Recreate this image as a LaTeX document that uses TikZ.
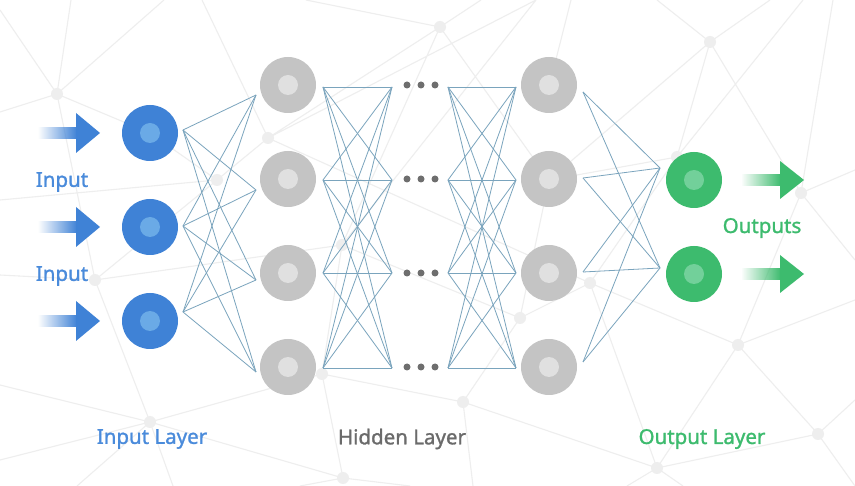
\documentclass[tikz,border=0pt]{standalone}
\usepackage{fontspec}
\setmainfont{Noto Sans}
\newfontfamily\lblfont[FakeBold=1.3]{Noto Sans}
\usetikzlibrary{fadings}
\definecolor{inblue}{HTML}{3F82D6}
\definecolor{inblueL}{HTML}{6AAAE6}
\definecolor{hgray}{HTML}{C4C4C4}
\definecolor{hgrayL}{HTML}{E0E0E0}
\definecolor{ogreen}{HTML}{3DBB6E}
\definecolor{ogreenL}{HTML}{72D09A}
\definecolor{wire}{HTML}{7AA4BD}
\definecolor{bgline}{HTML}{EEEEEE}
\definecolor{bgdot}{HTML}{EEEEEE}
\definecolor{dotgray}{HTML}{6E6E6E}
\definecolor{txtblue}{HTML}{4A8BDB}
\definecolor{txtgray}{HTML}{6B6B6B}
\definecolor{txtgreen}{HTML}{3DBB6E}
\tikzfading[name=fadein, left color=transparent!100, right color=transparent!0]
\tikzset{
  neuron/.style={circle, minimum size=56pt, inner sep=0pt, fill=#1},
  core/.style={circle, minimum size=20pt, inner sep=0pt, fill=#1},
  wirel/.style={draw=wire, line width=0.8pt},
  bgl/.style={draw=bgline, line width=1.1pt},
  bgd/.style={circle, fill=bgdot, minimum size=12pt, inner sep=0pt},
  mdot/.style={circle, fill=dotgray, minimum size=7pt, inner sep=0pt},
  lbl/.style={font=\lblfont\fontsize{20.5}{24}\selectfont, inner sep=0pt},
}
\begin{document}
\begin{tikzpicture}[x=1pt,y=-1pt]
\useasboundingbox (0,0) rectangle (855,486);
\fill[white] (0,0) rectangle (855,486);
% background mesh
\begin{scope}
\coordinate (A) at (57,94); \coordinate (B) at (268,138); \coordinate (C) at (217,180);
\coordinate (D) at (440,27); \coordinate (E) at (710,42); \coordinate (F) at (677,157);
\coordinate (G) at (801,193); \coordinate (H) at (342,245); \coordinate (J) at (95,280);
\coordinate (K) at (590,283); \coordinate (L) at (520,318); \coordinate (M) at (322,374);
\coordinate (N) at (150,422); \coordinate (O) at (463,402); \coordinate (P) at (738,345);
\coordinate (Q) at (818,434); \coordinate (R) at (657,468); \coordinate (S) at (343,478);
\coordinate (X1) at (150,133); \coordinate (X2) at (549,180);
\draw[bgl] (0,10)--(A) (71,0)--(A) (164,0)--(A) (0,112)--(A) (A)--(X1) (A)--(J)
  (X1)--(C) (202,0)--(B) (C)--(B) (B)--(536,0) (B)--(D) (B)--(K)
  (D)--(306,0) (D)--(481,0) (D)--(H) (D)--(X2) (536,0)--(H) (571,0)--(549,87)
  (E)--(657,0) (E)--(770,0) (E)--(F) (E)--(G) (E)--(X2) (F)--(803,0) (G)--(833,0)
  (G)--(855,170) (F)--(X2) (F)--(K) (G)--(P)
  (0,275)--(J) (J)--(N) (0,385)--(N) (N)--(M) (N)--(77,486) (N)--(173,486) (N)--(S)
  (J)--(H) (C)--(J) (H)--(L) (H)--(M) (M)--(O) (M)--(S) (O)--(L) (O)--(R) (O)--(473,486)
  (L)--(K) (K)--(R) (K)--(P) (P)--(R) (P)--(Q) (R)--(Q) (P)--(855,300) (Q)--(855,400)
  (Q)--(855,486) (R)--(627,486) (R)--(683,486) (S)--(300,486) (S)--(410,486)
  (0,200)--(C) (0,460)--(N) (X2)--(L) (G)--(855,260);
\foreach \p in {A,B,C,D,E,F,G,H,J,K,L,M,N,O,P,Q,R,S}
  \node[bgd] (d\p) at (\p) {};
\end{scope}
% input arrows
\foreach \k/\y in {1/133,2/227,3/321}{
  \fill[inblue, path fading=fadein] (38,\y-6) rectangle (77,\y+6);
  \fill[inblue] (76,\y-20) -- (100,\y) -- (76,\y+20) -- cycle;
}
% connector anchors
\foreach \k/\y in {1/130,2/226,3/312}{ \coordinate (is\k) at (183,\y); }
\foreach \k/\y in {1/95,2/190,3/280,4/372}{ \coordinate (ha\k) at (256,\y); }
\foreach \k/\y in {1/87,2/180,3/273,4/368}{
  \coordinate (hb\k) at (323,\y); \coordinate (hc\k) at (392,\y);
  \coordinate (hd\k) at (448,\y); \coordinate (he\k) at (516,\y);
}
\foreach \k/\y in {1/92,2/178,3/272,4/362}{ \coordinate (hf\k) at (583,\y); }
\foreach \k/\y in {1/168,2/268}{ \coordinate (oa\k) at (660,\y); }
% wires
\foreach \i in {1,2,3}{\foreach \j in {1,2,3,4}{\draw[wirel] (is\i)--(ha\j);}}
\foreach \i in {1,2,3,4}{\foreach \j in {1,2,3,4}{
  \draw[wirel] (hb\i)--(hc\j); \draw[wirel] (hd\i)--(he\j);}}
\foreach \i in {1,2,3,4}{\foreach \j in {1,2}{\draw[wirel] (hf\i)--(oa\j);}}
% input neurons
\foreach \k/\y in {1/133,2/227,3/321}{
  \node[neuron=inblue] (in\k) at (150,\y) {};
  \node[core=inblueL] at (in\k) {};
}
% hidden neurons
\foreach \k/\y in {1/85,2/179,3/273,4/367}{
  \node[neuron=hgray] (ha\k n) at (288,\y) {};
  \node[core=hgrayL] at (ha\k n) {};
  \node[neuron=hgray] (hb\k n) at (549,\y) {};
  \node[core=hgrayL] at (hb\k n) {};
  \node[mdot] (dt\k a) at (407,\y) {};
  \node[mdot] (dt\k b) at (421,\y) {};
  \node[mdot] (dt\k c) at (435,\y) {};
}
% output neurons and arrows
\foreach \k/\y in {1/180,2/274}{
  \node[neuron=ogreen] (out\k) at (694,\y) {};
  \node[core=ogreenL] at (out\k) {};
  \fill[ogreen, path fading=fadein] (741,\y-6) rectangle (781,\y+6);
  \fill[ogreen] (780,\y-19) -- (804,\y) -- (780,\y+19) -- cycle;
}
% labels
\node[lbl, text=txtblue] (lin1) at (62,182) {Input};
\node[lbl, text=txtblue] (lin2) at (62,276) {Input};
\node[lbl, text=txtgreen] (lout) at (762,228) {Outputs};
\node[lbl, text=txtblue] (lL1) at (152,439) {Input Layer};
\node[lbl, text=txtgray] (lL2) at (402,439) {Hidden Layer};
\node[lbl, text=txtgreen] (lL3) at (702,439) {Output Layer};
\end{tikzpicture}
\end{document}
